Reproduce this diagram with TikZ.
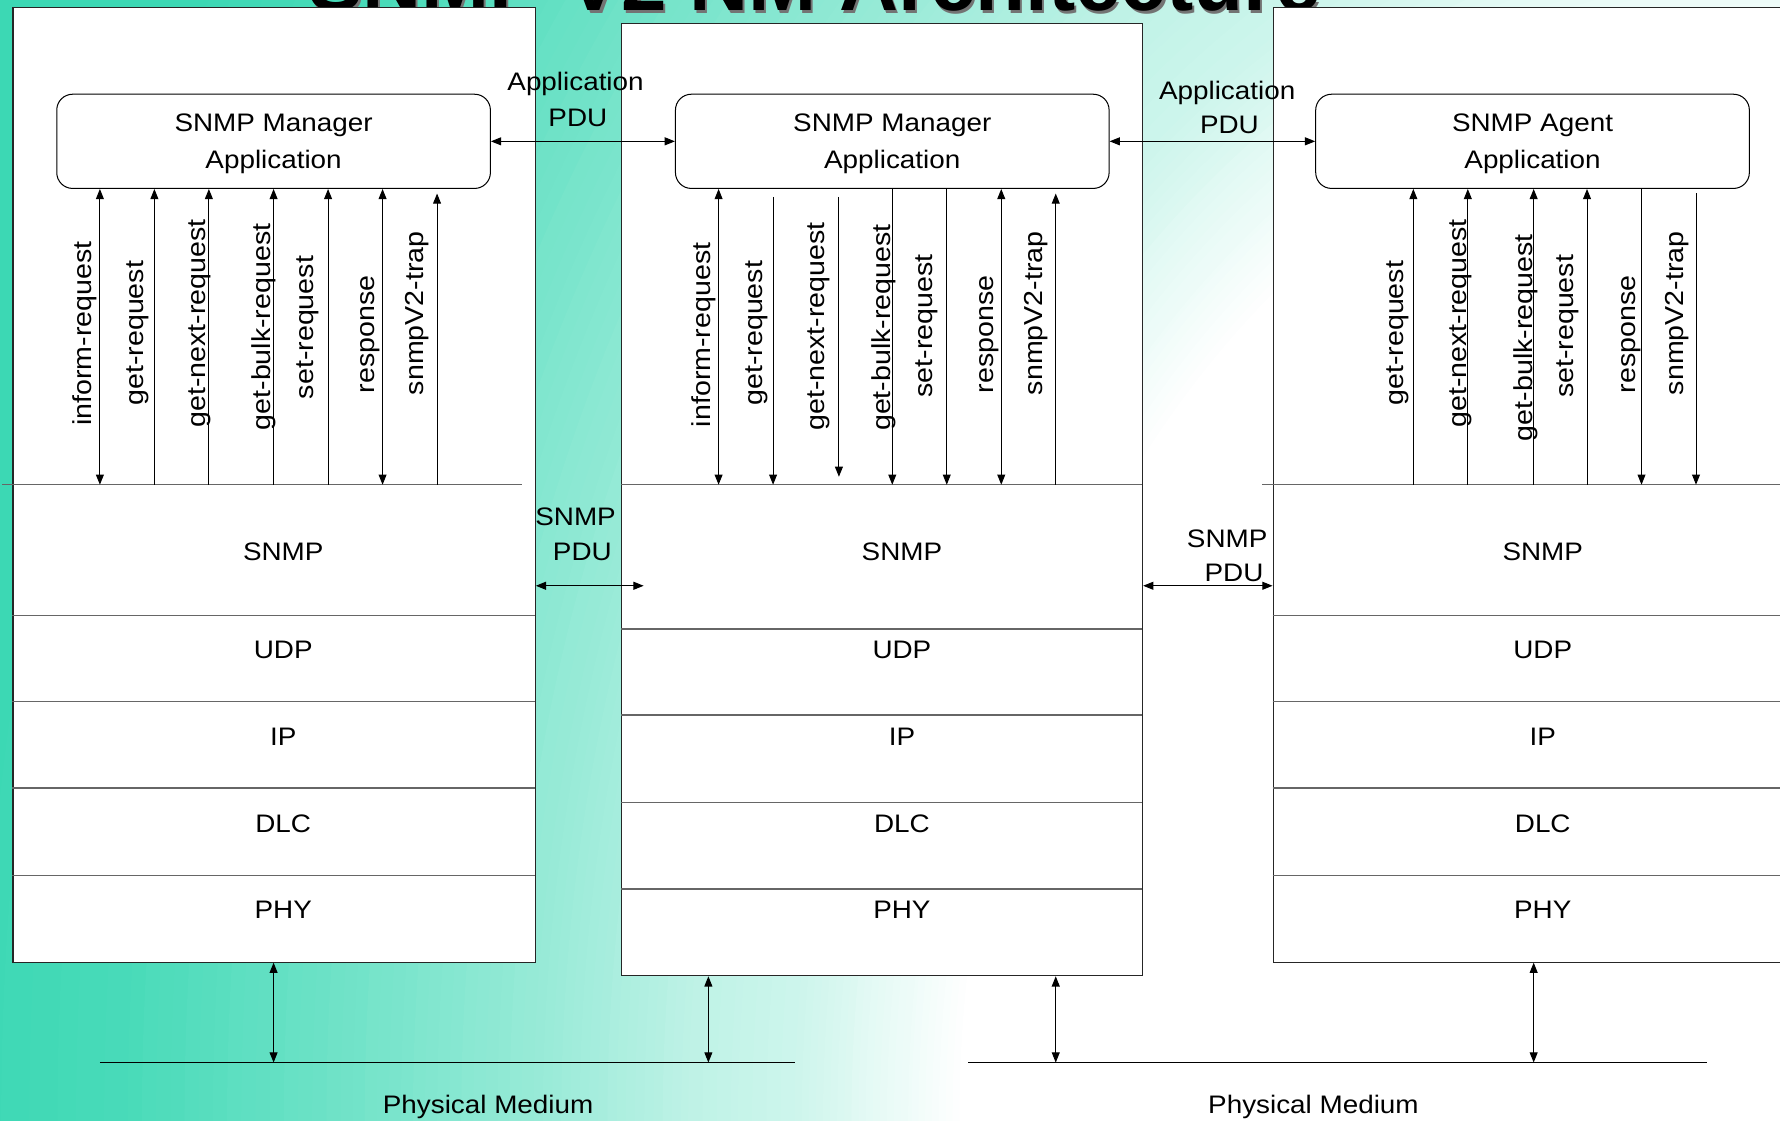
\documentclass[tikz,border=0pt]{standalone}
\usepackage{fontspec}
\setmainfont{Liberation Sans}
\newfontfamily\diafont[FakeStretch=1.1]{Liberation Sans}
\usetikzlibrary{arrows.meta}

% background colour: teal fading to white towards the lower right
\definecolor{bgteal}{RGB}{60,216,180}

% invisible strut that lowers the two-line application captions slightly
\newcommand{\capstrut}{\rule{0pt}{20pt}}

\tikzset{
  stackbox/.style={draw=black!85, line width=1pt, fill=white, inner sep=0pt},
  appbox/.style={draw=black, line width=0.9pt, fill=white, rounded corners=14pt,
    minimum width=382pt, minimum height=83pt, inner sep=0pt, align=center,
    font=\diafont\fontsize{22.3}{32}\selectfont},
  layersep/.style={draw=black!60, line width=1.3pt},
  msg/.style={draw=black, line width=0.9pt},
  medium/.style={draw=black, line width=1pt},
  plabel/.style={rotate=90, anchor=base, inner sep=0pt,
    font=\diafont\fontsize{22.9}{26}\selectfont},
  txt/.style={anchor=base, inner sep=0pt, font=\diafont\fontsize{22.3}{26}\selectfont},
  titletext/.style={anchor=base, inner sep=0pt, font=\bfseries\fontsize{72}{80}\selectfont}
}

\begin{document}
\begin{tikzpicture}[x=1pt, y=-1pt, >={Triangle[length=9pt,width=7pt]}]
\useasboundingbox (0,0) rectangle (1568,987);
\clip (0,0) rectangle (1568,987);

% background: nested ellipses around the lower right corner
\fill[bgteal] (0,0) rectangle (1568,987);
\foreach \ra/\sa/\rb/\sb in {1600/0/1468/6, 1468/6/1268/27, 1268/27/1098/47,
    1098/47/968/66, 968/66/868/75, 868/75/768/92, 768/92/720/100}{
  \foreach \k in {0,...,15}{
    \pgfmathsetmacro\rr{\ra+(\rb-\ra)*\k/16}
    \pgfmathsetmacro\ry{\rr/0.78}
    \pgfmathtruncatemacro\ss{round(\sa+(\sb-\sa)*\k/16)}
    \fill[white!\ss!bgteal] (1568,987) ellipse[x radius=\rr pt, y radius=\ry pt];
  }
}
\fill[white] (1568,987) ellipse[x radius=720pt, y radius=923pt];

% slide title, partly hidden behind the stacks
\node[titletext, text=black!55] (titleshadow) at (719.5,11.5) {SNMP V2 NM Architecture};
\node[titletext, text=black] (title) at (717.5,9.5) {SNMP V2 NM Architecture};

% protocol stacks
\node[stackbox, anchor=north west, minimum width=460pt, minimum height=841pt] (Lbox) at (11,6) {};
\node[stackbox, anchor=north west, minimum width=459pt, minimum height=839pt] (Mbox) at (547,20) {};
\node[stackbox, anchor=north west, minimum width=500pt, minimum height=841pt] (Rbox) at (1121,6) {};

% layer boundaries
\draw[layersep] (2,427) -- (460,427);
\foreach \y in {542,618,694,771} \draw[layersep] (11,\y) -- (471,\y);
\draw[layersep] (547,427) -- (1006,427);
\foreach \y in {554,630,707,783} \draw[layersep] (547,\y) -- (1006,\y);
\draw[layersep] (1112,427) -- (1600,427);
\foreach \y in {542,618,694,771} \draw[layersep] (1121,\y) -- (1600,\y);

% layer names
\foreach \n/\y in {SNMP/494,UDP/580,IP/657,DLC/733,PHY/809}{
  \node[txt] (Lt\n) at (249.5,\y) {\n};
  \node[txt] (Mt\n) at (794.5,\y) {\n};
  \node[txt] (Rt\n) at (1359,\y) {\n};
}

% applications
\node[appbox] (LA) at (241,124.5) {\capstrut SNMP Manager\\Application};
\node[appbox] (MA) at (786,124.5) {\capstrut SNMP Manager\\Application};
\node[appbox] (RA) at (1350,124.5) {\capstrut SNMP Agent\\Application};

% PDU exchanges between peers
\draw[msg,<->] (LA.east) -- (MA.west);
\draw[msg,<->] (MA.east) -- (RA.west);
\node[txt] (lapp1) at (507,80) {Application};
\node[txt] (lapp2) at (509,111) {PDU};
\node[txt] (rapp1) at (1081,88) {Application};
\node[txt] (rapp2) at (1083,118) {PDU};

\coordinate (pduL) at (567,516);
\coordinate (pduR) at (0,516);
\draw[msg,<->] (Lbox.east |- pduL) -- (pduL);
\draw[msg,<->] (Mbox.east |- pduR) -- (Rbox.west |- pduR);
\node[txt] (lsnmp1) at (507,463) {SNMP};
\node[txt] (lsnmp2) at (513,494) {PDU};
\node[txt] (rsnmp1) at (1081,482) {SNMP};
\node[txt] (rsnmp2) at (1087,512) {PDU};

% primitive attachment points on the SNMP layer
\foreach \i/\x in {1/88,2/136,3/184,4/241,5/289,6/337,7/385} \coordinate (L\i) at (\x,427);
\foreach \i/\x in {1/633,2/681,3/739,4/786,5/834,6/882,7/930} \coordinate (M\i) at (\x,427);
\foreach \i/\x in {1/1245,2/1293,3/1351,4/1398,5/1446,6/1494} \coordinate (R\i) at (\x,427);

% manager (left) primitives
\draw[msg,<->] (L1) -- (LA.south -| L1);
\foreach \i in {2,3,4,5} \draw[msg,->] (L\i) -- (LA.south -| L\i);
\draw[msg,<->] (L6) -- (LA.south -| L6);
\draw[msg,->,shorten >=4pt] (L7) -- (LA.south -| L7);

% manager (middle) primitives
\draw[msg,<->] (M1) -- (MA.south -| M1);
\draw[msg,->,shorten <=7pt] (MA.south -| M2) -- (M2);
\draw[msg,->,shorten <=7pt,shorten >=7pt] (MA.south -| M3) -- (M3);
\draw[msg,->] (MA.south -| M4) -- (M4);
\draw[msg,->] (MA.south -| M5) -- (M5);
\draw[msg,<->] (M6) -- (MA.south -| M6);
\draw[msg,->,shorten >=4pt] (M7) -- (MA.south -| M7);

% agent primitives
\foreach \i in {1,2,3,4} \draw[msg,->] (R\i) -- (RA.south -| R\i);
\draw[msg,->] (RA.south -| R5) -- (R5);
\draw[msg,->,shorten <=4pt] (RA.south -| R6) -- (R6);

% primitive names
\foreach \s/\x/\y/\t in {a/81/294/inform-request, b/126/293.5/get-request,
    c/181/285/get-next-request, d/238/288/get-bulk-request, e/276/288.5/set-request,
    f/330/294.5/response, g/373/276/snmpV2-trap}
  \node[plabel] (Ll\s) at (\x,\y) {\t};
\foreach \s/\x/\y/\t in {a/626/295/inform-request, b/672/293.5/get-request,
    c/726/287.5/get-next-request, d/784/288.5/get-bulk-request, e/821/287/set-request,
    f/875/294.5/response, g/918/276/snmpV2-trap}
  \node[plabel] (Ml\s) at (\x,\y) {\t};
\foreach \s/\x/\y/\t in {b/1236/293.5/get-request, c/1292/285/get-next-request,
    d/1350/297.5/get-bulk-request, e/1386/287.5/set-request,
    f/1441/294.5/response, g/1483/276/snmpV2-trap}
  \node[plabel] (Rl\s) at (\x,\y) {\t};

% physical media
\coordinate (PMLa) at (88,936);
\coordinate (PMLb) at (700,936);
\coordinate (PMRa) at (853,936);
\coordinate (PMRb) at (1504,936);
\draw[medium] (PMLa) -- (PMLb);
\draw[medium] (PMRa) -- (PMRb);
\coordinate (PL1) at (241,936);
\coordinate (PL2) at (624,936);
\coordinate (PR1) at (930,936);
\coordinate (PR2) at (1351,936);
\draw[msg,<->] (Lbox.south -| PL1) -- (PL1);
\draw[msg,<->] (Mbox.south -| PL2) -- (PL2);
\draw[msg,<->] (Mbox.south -| PR1) -- (PR1);
\draw[msg,<->] (Rbox.south -| PR2) -- (PR2);
\node[txt] (pmL) at (430,981) {Physical Medium};
\node[txt] (pmR) at (1157,981) {Physical Medium};
\end{tikzpicture}
\end{document}
